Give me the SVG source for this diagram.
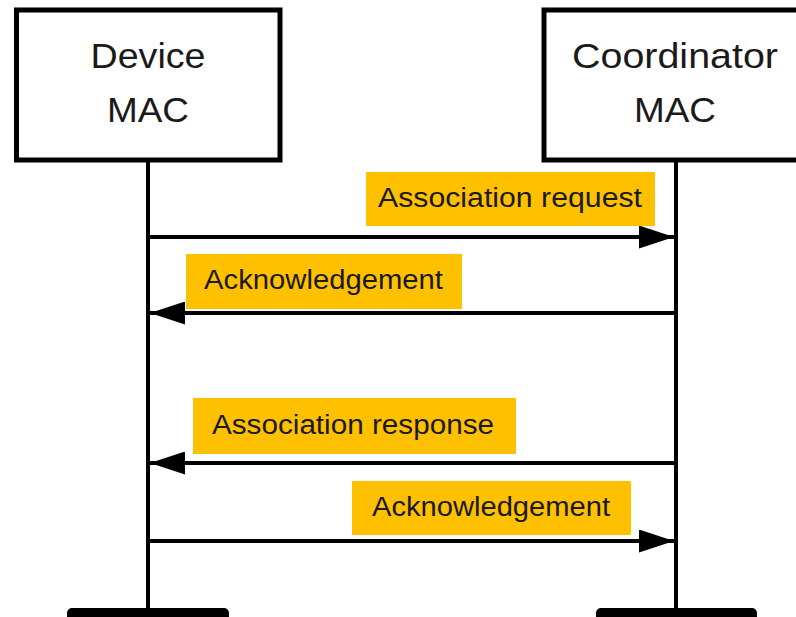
<svg xmlns="http://www.w3.org/2000/svg" width="796" height="617" viewBox="0 0 796 617">
<style>
.box{fill:#fff;stroke:#000;stroke-width:5}
.life{stroke:#000;stroke-width:4;fill:none}
.bar{fill:#000}
.msg{stroke:#000;stroke-width:4;fill:none}
.lbl{fill:#FFC000}
.ht{font-family:"Liberation Sans",Arial,sans-serif;font-size:35px;fill:#1a1a1a;text-anchor:middle}
.lt{font-family:"Liberation Sans",Arial,sans-serif;font-size:27px;fill:#1a1a1a}
</style>
<defs>
<marker id="ah" viewBox="0 0 35 23" refX="35" refY="11.5" markerWidth="35" markerHeight="23" markerUnits="userSpaceOnUse" orient="auto">
<path d="M0,0 L35,11.5 L0,23 Z" fill="#000"/>
</marker>
</defs>
<g id="device">
<rect class="box" x="16.5" y="10" width="263.5" height="150"/>
<text class="ht" x="148" y="68" textLength="115" lengthAdjust="spacingAndGlyphs">Device</text>
<text class="ht" x="148" y="122" textLength="82" lengthAdjust="spacingAndGlyphs">MAC</text>
<line class="life" x1="148" y1="160" x2="148" y2="610"/>
<rect class="bar" x="67" y="608" width="162" height="16" rx="5"/>
</g>
<g id="coordinator">
<rect class="box" x="544" y="10" width="262" height="150"/>
<text class="ht" x="675" y="68" textLength="206" lengthAdjust="spacingAndGlyphs">Coordinator</text>
<text class="ht" x="675" y="122" textLength="82" lengthAdjust="spacingAndGlyphs">MAC</text>
<line class="life" x1="676" y1="160" x2="676" y2="610"/>
<rect class="bar" x="596" y="608" width="161" height="16" rx="5"/>
</g>
<g id="connectors">
<line class="msg" x1="148" y1="237" x2="674" y2="237" marker-end="url(#ah)"/>
<line class="msg" x1="676" y1="313" x2="150" y2="313" marker-end="url(#ah)"/>
<line class="msg" x1="676" y1="463" x2="150" y2="463" marker-end="url(#ah)"/>
<line class="msg" x1="148" y1="541" x2="674" y2="541" marker-end="url(#ah)"/>
</g>
<g id="label-assoc-request">
<rect class="lbl" x="366" y="172" width="289" height="54"/>
<text class="lt" x="378" y="207" textLength="264" lengthAdjust="spacingAndGlyphs">Association request</text>
</g>
<g id="label-ack1">
<rect class="lbl" x="186" y="254" width="276" height="55"/>
<text class="lt" x="204" y="289" textLength="239" lengthAdjust="spacingAndGlyphs">Acknowledgement</text>
</g>
<g id="label-assoc-response">
<rect class="lbl" x="193" y="398" width="323" height="56"/>
<text class="lt" x="212" y="434" textLength="282" lengthAdjust="spacingAndGlyphs">Association response</text>
</g>
<g id="label-ack2">
<rect class="lbl" x="352" y="481" width="279" height="54"/>
<text class="lt" x="372" y="516" textLength="238" lengthAdjust="spacingAndGlyphs">Acknowledgement</text>
</g>
</svg>
